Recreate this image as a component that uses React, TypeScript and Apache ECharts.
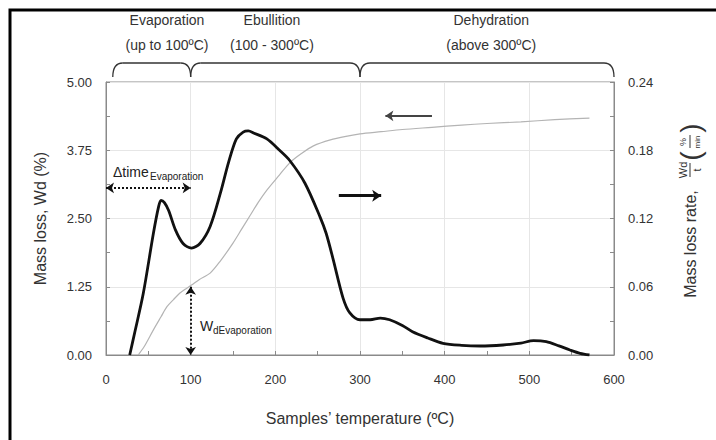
import React, { useEffect, useRef } from "react";
import * as echarts from "echarts";

// X axis: temperature (°C)
const xMin = 0;
const xMax = 600;
const xStep = 100;
// Left axis: mass loss Wd (%)
const leftMax = 5;
const leftStep = 1.25;
// Right axis: mass loss rate
const rightMax = 0.24;
const rightStep = 0.06;

// Mass loss rate curve (right axis), black
const rateTemp = [28, 34, 44, 56, 62, 65, 69, 74, 82, 91, 101, 111, 123, 135, 145, 154, 162, 168, 175, 190, 205, 217, 235, 253, 260, 268, 280, 288, 300, 312, 324, 335, 350, 362, 380, 398, 420, 442, 469, 490, 505, 520, 535, 548, 560, 571];
const rateValues = [0, 0.02, 0.054, 0.107, 0.13, 0.136, 0.134, 0.127, 0.11, 0.098, 0.094, 0.098, 0.113, 0.142, 0.17, 0.19, 0.196, 0.197, 0.195, 0.19, 0.18, 0.171, 0.151, 0.121, 0.107, 0.085, 0.05, 0.037, 0.031, 0.031, 0.0325, 0.031, 0.026, 0.0205, 0.015, 0.0103, 0.0085, 0.0079, 0.0088, 0.0105, 0.0126, 0.0117, 0.008, 0.0044, 0.0015, 0];

// Mass loss curve (left axis), grey
const lossTemp = [38, 45, 56, 65, 72, 80, 87, 94, 101, 110, 123, 135, 150, 160, 170, 180, 190, 205, 217, 230, 245, 265, 285, 300, 325, 350, 385, 420, 450, 490, 530, 571];
const lossValues = [0, 0.15, 0.46, 0.7, 0.885, 1.02, 1.13, 1.21, 1.28, 1.38, 1.5, 1.72, 2.05, 2.3, 2.55, 2.8, 3.02, 3.3, 3.52, 3.68, 3.83, 3.94, 4.01, 4.05, 4.09, 4.13, 4.17, 4.21, 4.24, 4.27, 4.31, 4.34];

// Stage annotations
const stageNames = ["Evaporation", "Ebullition", "Dehydration"];
const stageRanges = ["(up to 100ºC)", "(100 - 300ºC)", "(above 300ºC)"];
const stageBounds = [8, 100, 300, 600];
const stageLabelCenters = [72, 196, 455];

// Annotation arrows
const evapTimeLevel = 3.06; // % (left axis)
const evapTemp = 100;
const evapMass = 1.25;
const rateArrow = [275, 325, 0.14]; // from, to, level (right axis)
const lossArrow = [385, 330, 4.38]; // from, to, level (left axis)

const FONT = "Liberation Sans, Arial, sans-serif";

export default function App() {
  const ref = useRef<HTMLDivElement>(null);
  useEffect(() => {
    if (!ref.current) return;
    const chart = echarts.init(ref.current, null, { renderer: "svg" });
    const axisColor = "#8a8a8a";
    const labelStyle = { fontSize: 13, color: "#333", fontFamily: FONT };
    chart.setOption({
      animation: false,
      textStyle: { fontFamily: FONT },
      grid: { left: 106, right: 102, top: 82, bottom: 85, show: true, borderColor: axisColor, borderWidth: 1 },
      xAxis: {
        type: "value",
        min: xMin,
        max: xMax,
        interval: xStep,
        name: "Samples’ temperature (ºC)",
        nameLocation: "middle",
        nameGap: 55,
        nameTextStyle: { fontSize: 16, color: "#333", fontFamily: FONT },
        axisLine: { show: true, lineStyle: { color: axisColor } },
        axisTick: { show: true, inside: true, length: 4, lineStyle: { color: axisColor } },
        minorTick: { show: true, splitNumber: 2, length: 4, lineStyle: { color: axisColor } },
        splitLine: { show: true, lineStyle: { color: "#e6e6e6" } },
        axisLabel: { ...labelStyle, margin: 18 },
      },
      yAxis: [
        {
          type: "value",
          min: 0,
          max: leftMax,
          interval: leftStep,
          name: "Mass loss, Wd (%)",
          nameLocation: "middle",
          nameGap: 58,
          nameTextStyle: { fontSize: 16, color: "#333", fontFamily: FONT },
          axisLine: { show: true, lineStyle: { color: axisColor } },
          axisTick: { show: true, inside: true, length: 4, lineStyle: { color: axisColor } },
          minorTick: { show: true, splitNumber: 2, length: 4, lineStyle: { color: axisColor } },
          splitLine: { show: true, lineStyle: { color: "#e6e6e6" } },
          axisLabel: { ...labelStyle, margin: 14, formatter: (v: number) => v.toFixed(2) },
        },
        {
          type: "value",
          min: 0,
          max: rightMax,
          interval: rightStep,
          position: "right",
          axisLine: { show: true, lineStyle: { color: axisColor } },
          axisTick: { show: true, inside: true, length: 4, lineStyle: { color: axisColor } },
          minorTick: { show: true, splitNumber: 2, length: 4, lineStyle: { color: axisColor } },
          splitLine: { show: false },
          axisLabel: { ...labelStyle, margin: 14, formatter: (v: number) => v.toFixed(2) },
        },
      ],
      series: [
        {
          type: "line",
          yAxisIndex: 0,
          data: lossTemp.map((t, i) => [t, lossValues[i]]),
          smooth: 0.3,
          showSymbol: false,
          lineStyle: { color: "#b4b4b4", width: 1.2 },
          z: 2,
          markLine: {
            silent: true,
            symbol: ["arrow", "arrow"],
            symbolSize: 8,
            label: { show: false },
            data: [
              [
                { coord: [0, evapTimeLevel], lineStyle: { color: "#111", type: "dotted", width: 2 } },
                { coord: [evapTemp, evapTimeLevel] },
              ],
              [
                { coord: [evapTemp, evapMass], lineStyle: { color: "#111", type: "dotted", width: 2 } },
                { coord: [evapTemp, 0] },
              ],
              [
                { coord: [lossArrow[0], lossArrow[2]], symbol: "none", lineStyle: { color: "#444", type: "solid", width: 2 } },
                { coord: [lossArrow[1], lossArrow[2]], symbol: "arrow" },
              ],
            ],
          },
        },
        {
          type: "line",
          yAxisIndex: 1,
          data: rateTemp.map((t, i) => [t, rateValues[i]]),
          smooth: 0.3,
          showSymbol: false,
          lineStyle: { color: "#111", width: 2.8 },
          z: 3,
          markLine: {
            silent: true,
            symbolSize: 9,
            label: { show: false },
            data: [
              [
                { coord: [rateArrow[0], rateArrow[2]], symbol: "none", lineStyle: { color: "#111", type: "solid", width: 3 } },
                { coord: [rateArrow[1], rateArrow[2]], symbol: "arrow" },
              ],
            ],
          },
        },
      ],
    });

    const px = (t: number) => chart.convertToPixel({ xAxisIndex: 0 }, t) as number;
    const braceTop = 63;
    const braceBottom = 77;
    const graphics: any[] = [];
    // Outer frame
    graphics.push({
      type: "rect",
      shape: { x: 10, y: 10, width: 740, height: 470 },
      style: { fill: "none", stroke: "#000", lineWidth: 3 },
      silent: true,
    });
    for (let i = 0; i < 3; i++) {
      const a = px(stageBounds[i]);
      const b = px(stageBounds[i + 1]);
      const r = 10;
      const st = { stroke: "#333", lineWidth: 1.3, fill: "none" };
      graphics.push({
        type: "bezierCurve",
        shape: { x1: a, y1: braceBottom, cpx1: a, cpy1: braceTop, x2: a + r, y2: braceTop },
        style: st,
      });
      graphics.push({ type: "line", shape: { x1: a + r, y1: braceTop, x2: b - r, y2: braceTop }, style: st });
      graphics.push({
        type: "bezierCurve",
        shape: { x1: b - r, y1: braceTop, cpx1: b, cpy1: braceTop, x2: b, y2: braceBottom },
        style: st,
      });
      const cx = px(stageLabelCenters[i]);
      graphics.push({
        type: "text",
        x: cx,
        y: 20,
        style: { text: stageNames[i], fontSize: 14, fill: "#333", font: `14px ${FONT}`, align: "center", verticalAlign: "middle" },
      });
      graphics.push({
        type: "text",
        x: cx,
        y: 45,
        style: { text: stageRanges[i], fontSize: 14, fill: "#333", font: `14px ${FONT}`, align: "center", verticalAlign: "middle" },
      });
    }
    // Delta time annotation
    graphics.push({
      type: "text",
      x: 113,
      y: 172,
      style: { text: "Δtime", font: `14px ${FONT}`, fill: "#222", align: "left", verticalAlign: "middle" },
    });
    graphics.push({
      type: "text",
      x: 150,
      y: 176,
      style: { text: "Evaporation", font: `10px ${FONT}`, fill: "#222", align: "left", verticalAlign: "middle" },
    });
    graphics.push({
      type: "text",
      x: 200,
      y: 326,
      style: { text: "W", font: `14px ${FONT}`, fill: "#222", align: "left", verticalAlign: "middle" },
    });
    graphics.push({
      type: "text",
      x: 213,
      y: 330,
      style: { text: "dEvaporation", font: `10px ${FONT}`, fill: "#222", align: "left", verticalAlign: "middle" },
    });
    // Right axis name (rotated)
    const t = (text: string, x: number, y: number, size: number) => ({
      type: "text",
      x,
      y,
      style: { text, font: `${size}px ${FONT}`, fill: "#333", align: "center", verticalAlign: "middle" },
    });
    graphics.push({
      type: "group",
      x: 690,
      y: 220,
      rotation: Math.PI / 2,
      children: [
        t("Mass loss rate,", -24, 0, 16),
        t("Wd", 50, -7, 11),
        { type: "line", shape: { x1: 43, y1: 0, x2: 57, y2: 0 }, style: { stroke: "#333", lineWidth: 1 } },
        t("t", 50, 7, 11),
        t("(", 64, 0, 28),
        t("%", 78, -7, 9),
        { type: "line", shape: { x1: 72, y1: 0, x2: 85, y2: 0 }, style: { stroke: "#333", lineWidth: 1 } },
        t("min", 78, 7, 8),
        t(")", 92, 0, 28),
      ],
    });
    chart.setOption({ graphic: graphics });
    return () => chart.dispose();
  }, []);
  return (
    <div
      ref={ref}
      style={{ position: "fixed", left: 0, top: 0, width: 716, height: 440, background: "#fff" }}
    />
  );
}
